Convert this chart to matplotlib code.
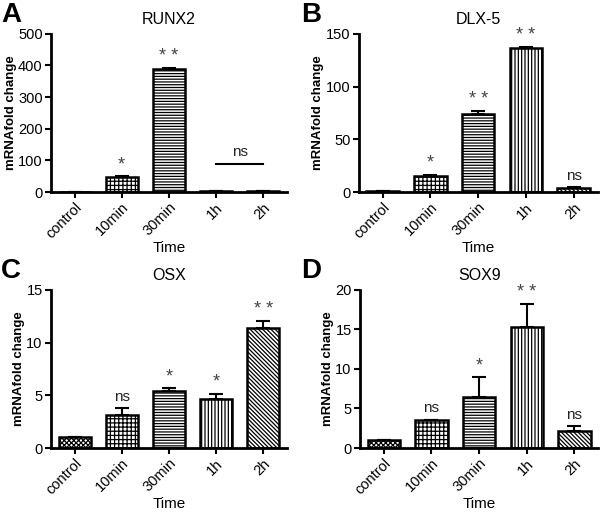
import numpy as np
import matplotlib
matplotlib.use('Agg')
import matplotlib.pyplot as plt

plt.rcParams['font.family'] = ['Liberation Sans', 'DejaVu Sans']
plt.rcParams['hatch.linewidth'] = 0.9

times = ['control', '10min', '30min', '1h', '2h']

runx2 = [1, 48, 389, 3, 2]
runx2Err = [0, 1, 2, 0, 0]
runx2Sig = ['', '*', '**', '', '']

dlx5 = [1, 15, 73.5, 136.3, 4.2]
dlx5Err = [0, 1.3, 3, 1.2, 0.3]
dlx5Sig = ['', '*', '**', '**', 'ns']

osx = [1.0, 3.15, 5.45, 4.65, 11.35]
osxErr = [0, 0.6, 0.25, 0.5, 0.7]
osxSig = ['', 'ns', '*', '*', '**']

sox9 = [1.0, 3.55, 6.45, 15.25, 2.2]
sox9Err = [0, 0, 2.5, 3.0, 0.55]
sox9Sig = ['', 'ns', '*', '**', 'ns']

hatches = ['xxxxxxx', '++++', '------', '|||||', '\\\\\\\\\\\\\\\\']

fig = plt.figure(figsize=(6, 5.12), dpi=100)


def drawPanel(rect, letter, letterPos, title, values, errors, sigs, ymax, ystep):
    ax = fig.add_axes(rect)
    x = np.arange(len(times))
    ax.bar(x, values, width=0.68, color='white', edgecolor='black',
           linewidth=1.8, hatch=hatches, zorder=2)
    ax.errorbar(x, values, yerr=[np.zeros(len(errors)), errors], fmt='none',
                ecolor='black', elinewidth=1.5, capsize=5, capthick=1.5, zorder=1)
    pad = ymax * 0.03
    for xi, v, e, s in zip(x, values, errors, sigs):
        if s:
            if '*' in s:
                ax.text(xi, v + e + pad * 0.6, s.replace('**', '* *'), ha='center',
                        va='bottom', fontsize=13, color='#444444')
            else:
                ax.text(xi, v + e + pad, s, ha='center', va='bottom',
                        fontsize=11, color='#222222')
    ax.set_xlim(-0.5, 4.5)
    ax.set_ylim(0, ymax)
    ax.set_yticks(np.arange(0, ymax + 1e-9, ystep))
    ax.set_xticks(x)
    ax.set_xticklabels(times, rotation=45, ha='right', rotation_mode='anchor')
    ax.tick_params(axis='both', labelsize=10.5, width=1.5, length=4, direction='out', pad=2)
    for side in ['top', 'right']:
        ax.spines[side].set_visible(False)
    for side in ['left', 'bottom']:
        ax.spines[side].set_linewidth(2)
    ax.set_title(title, fontsize=11.5, pad=7)
    ax.set_ylabel('mRNAfold change', fontweight='bold', fontsize=9.5, labelpad=1)
    ax.set_xlabel('Time', fontsize=11, labelpad=0)
    fig.text(letterPos[0], letterPos[1], letter,
             fontsize=20, fontweight='bold', ha='left', va='top')
    return ax


axA = drawPanel([0.085, 0.625, 0.393, 0.309], 'A', (0.002, 0.997), 'RUNX2',
                runx2, runx2Err, runx2Sig, 500, 100)
# ns bracket spanning 1h and 2h
axA.plot([3, 4], [89, 89], color='black', linewidth=1.5)
axA.text(3.5, 89 + 15, 'ns', ha='center', va='bottom', fontsize=11, color='#222222')

drawPanel([0.598, 0.625, 0.398, 0.309], 'B', (0.502, 0.997), 'DLX-5',
          dlx5, dlx5Err, dlx5Sig, 150, 50)
drawPanel([0.085, 0.125, 0.393, 0.309], 'C', (0.002, 0.497), 'OSX',
          osx, osxErr, osxSig, 15, 5)
drawPanel([0.6, 0.125, 0.397, 0.309], 'D', (0.502, 0.497), 'SOX9',
          sox9, sox9Err, sox9Sig, 20, 5)

fig.savefig('out.png', dpi=100)
